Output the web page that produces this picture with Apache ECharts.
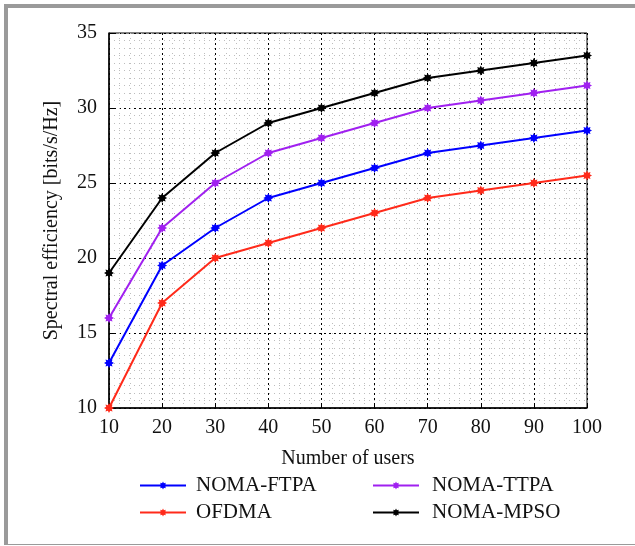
<!DOCTYPE html>
<html><head><meta charset="utf-8">
<script src="https://cdn.jsdelivr.net/npm/echarts@6/dist/echarts.min.js"></script>
<style>html,body{margin:0;padding:0;background:#fff}#c{width:635px;height:546px}</style>
</head><body><div id="c"></div>
<script>
const users = [10, 20, 30, 40, 50, 60, 70, 80, 90, 100];
const nomaFTPA = [13, 19.5, 22, 24, 25, 26, 27, 27.5, 28, 28.5];
const nomaTTPA = [16, 22, 25, 27, 28, 29, 30, 30.5, 31, 31.5];
const ofdma = [10, 17, 20, 21, 22, 23, 24, 24.5, 25, 25.5];
const nomaMPSO = [19, 24, 27, 29, 30, 31, 32, 32.5, 33, 33.5];
const seriesNames = ['NOMA-FTPA', 'NOMA-TTPA', 'OFDMA', 'NOMA-MPSO'];
const seriesColors = ['#0000ff', '#a020f0', '#ff2a1a', '#000000'];

// 8-point star marker path
function starPath() {
  let pts = [];
  for (let i = 0; i < 16; i++) {
    const a = Math.PI * i / 8 - Math.PI / 2;
    const r = i % 2 === 0 ? 10 : 6;
    pts.push((10 + r * Math.cos(a)).toFixed(2) + ' ' + (10 + r * Math.sin(a)).toFixed(2));
  }
  return 'path://M' + pts.join(' L') + ' Z';
}
const star = starPath();
const font = 'Liberation Serif';
const allData = [nomaFTPA, nomaTTPA, ofdma, nomaMPSO];

const chart = echarts.init(document.getElementById('c'), null, {renderer: 'canvas'});
chart.setOption({
  animation: false,
  backgroundColor: '#fff',
  graphic: [
    {type: 'rect', shape: {x: 4, y: 4, width: 4, height: 541}, style: {fill: '#9a9a9a'}},
    {type: 'rect', shape: {x: 4, y: 4, width: 631, height: 4}, style: {fill: '#9a9a9a'}},
    {type: 'rect', shape: {x: 4, y: 544, width: 631, height: 1}, style: {fill: '#9a9a9a'}}
  ],
  grid: {left: 109, right: 48, top: 33, bottom: 138, show: true, borderColor: '#000', borderWidth: 1, containLabel: false},
  xAxis: {
    type: 'value', min: 10, max: 100, interval: 10,
    name: 'Number of users', nameLocation: 'middle', nameGap: 41,
    nameTextStyle: {fontFamily: font, fontSize: 20, color: '#111'},
    axisLine: {show: true, lineStyle: {color: '#000', width: 1.5}},
    axisTick: {show: true, inside: true, length: 5, lineStyle: {color: '#000'}},
    axisLabel: {fontFamily: font, fontSize: 20, color: '#111', margin: 10},
    splitLine: {show: true, lineStyle: {color: '#000', type: [2, 3], width: 1}},
    minorTick: {show: false, splitNumber: 5},
    minorSplitLine: {show: true, lineStyle: {color: '#bdbdbd', type: [1, 4], width: 1}}
  },
  yAxis: {
    type: 'value', min: 10, max: 35, interval: 5,
    name: 'Spectral efficiency [bits/s/Hz]', nameLocation: 'middle', nameGap: 47,
    nameTextStyle: {fontFamily: font, fontSize: 20, color: '#111'},
    axisLine: {show: true, lineStyle: {color: '#000', width: 1.5}},
    axisTick: {show: true, inside: true, length: 5, lineStyle: {color: '#000'}},
    axisLabel: {fontFamily: font, fontSize: 20, color: '#111', margin: 12},
    splitLine: {show: true, lineStyle: {color: '#000', type: [2, 3], width: 1}},
    minorTick: {show: false, splitNumber: 10},
    minorSplitLine: {show: true, lineStyle: {color: '#bdbdbd', type: [1, 4], width: 1}}
  },
  legend: [
    {data: ['NOMA-FTPA', 'OFDMA'], orient: 'vertical', left: 139, top: 475, padding: 0, itemWidth: 46, itemHeight: 10, itemGap: 6,
     textStyle: {fontFamily: font, fontSize: 21, color: '#111', padding: [0, 0, 0, 5]}},
    {data: ['NOMA-TTPA', 'NOMA-MPSO'], orient: 'vertical', left: 372, top: 475, padding: 0, itemWidth: 46, itemHeight: 10, itemGap: 6,
     textStyle: {fontFamily: font, fontSize: 21, color: '#111', padding: [0, 0, 0, 8]}}
  ],
  series: seriesNames.map((n, i) => ({
    name: n, type: 'line',
    data: users.map((u, j) => [u, allData[i][j]]),
    symbol: star, symbolSize: 10,
    lineStyle: {color: seriesColors[i], width: 2},
    itemStyle: {color: seriesColors[i]},
    z: 3 + (i === 3 ? 1 : 0)
  }))
});
</script></body></html>
